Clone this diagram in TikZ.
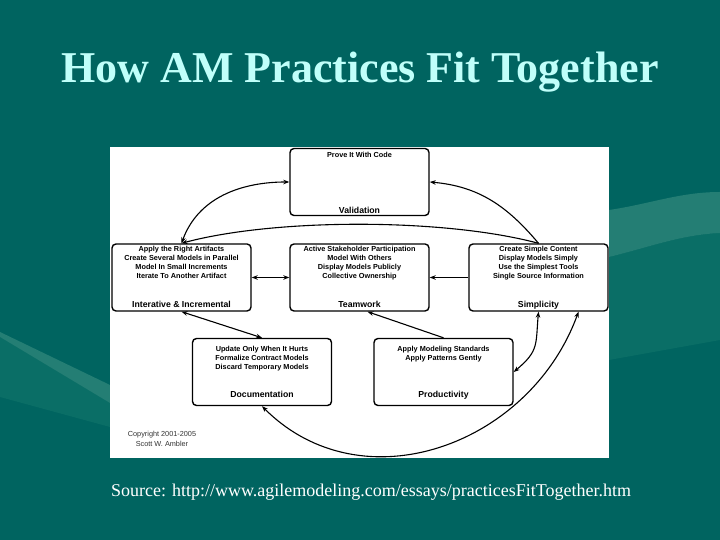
\documentclass[tikz,border=0pt]{standalone}
\usepackage{fontspec}
\setmainfont{Liberation Serif}
\newfontfamily\diagfont{Liberation Sans}
\usetikzlibrary{arrows.meta}
\definecolor{slidebg}{RGB}{0,100,96}
\definecolor{swooshlight}{RGB}{36,126,116}
\definecolor{swooshmid}{RGB}{10,110,102}
\definecolor{titlecyan}{RGB}{192,255,250}
\tikzset{
  practicebox/.style={draw,line width=1.4pt,rounded corners=4pt,minimum width=139pt,minimum height=67pt,inner sep=0pt},
  practices/.style={font=\diagfont\bfseries\fontsize{7.3}{9}\selectfont,align=center,inner sep=0pt,anchor=north},
  boxtitle/.style={font=\diagfont\bfseries\fontsize{8.7}{10}\selectfont,inner sep=0pt,anchor=base},
  link/.style={line width=1.1pt},
}
\begin{document}
\begin{tikzpicture}[x=1pt,y=1pt,>={Stealth[length=6pt,width=4.5pt]}]
  \useasboundingbox (0,0) rectangle (720,540);

  % 背景
  \fill[slidebg] (0,0) rectangle (720,540);
  \fill[swooshmid] (609,283) .. controls (650,293) and (680,305) .. (720,307) -- (720,200) -- (609,180) -- cycle;
  \fill[swooshlight] (609,330) .. controls (650,336) and (680,348) .. (720,348) -- (720,307) .. controls (680,305) and (650,293) .. (609,283) -- cycle;
  \fill[swooshmid] (0,203) -- (110,137) -- (110,113) -- (0,143) -- cycle;
  \fill[swooshlight] (0,208) -- (110,155) -- (110,137) -- (0,203) -- cycle;
  \fill[white] (110,82) rectangle (609,393);

  % 标题与来源
  \node[font=\bfseries\fontsize{44}{50}\selectfont,text=titlecyan,anchor=base] (title) at (360,457) {How AM Practices Fit Together};
  \node[font=\fontsize{18}{20}\selectfont,text=white,anchor=base] (source) at (371,43) {Source: http://www.agilemodeling.com/essays/practicesFitTogether.htm};

  % 实践框
  \node[practicebox] (val) at (359.5,358) {};
  \node[practicebox] (iter) at (181.5,262.5) {};
  \node[practicebox] (team) at (359.5,262.5) {};
  \node[practicebox] (simp) at (538.5,262.5) {};
  \node[practicebox] (doc) at (262,168) {};
  \node[practicebox] (prod) at (443.5,168) {};

  % 框内文字
  \node[practices] (valtext) at ([yshift=-4]val.north) {Prove It With Code};
  \node[boxtitle] (valtitle) at ([yshift=3]val.south) {Validation};
  \node[practices] (itertext) at ([yshift=-2.4]iter.north) {Apply the Right Artifacts\\Create Several Models in Parallel\\Model In Small Increments\\Iterate To Another Artifact};
  \node[boxtitle] (itertitle) at ([yshift=4]iter.south) {Interative \& Incremental};
  \node[practices] (teamtext) at ([yshift=-2.4]team.north) {Active Stakeholder Participation\\Model With Others\\Display Models Publicly\\Collective Ownership};
  \node[boxtitle] (teamtitle) at ([yshift=4]team.south) {Teamwork};
  \node[practices] (simptext) at ([yshift=-2.4]simp.north) {Create Simple Content\\Display Models Simply\\Use the Simplest Tools\\Single Source Information};
  \node[boxtitle] (simptitle) at ([yshift=4]simp.south) {Simplicity};
  \node[practices] (doctext) at ([yshift=-8.4]doc.north) {Update Only When It Hurts\\Formalize Contract Models\\Discard Temporary Models};
  \node[boxtitle] (doctitle) at ([yshift=9]doc.south) {Documentation};
  \node[practices] (prodtext) at ([yshift=-8.4]prod.north) {Apply Modeling Standards\\Apply Patterns Gently};
  \node[boxtitle] (prodtitle) at ([yshift=9]prod.south) {Productivity};

  \node[font=\diagfont\fontsize{7.3}{9.5}\selectfont,text=black!80,align=center] (copyright) at (162,101) {Copyright 2001-2005\\Scott W. Ambler};

  % 连线
  \draw[link,<->] (val.west) to[out=180,in=70] (iter.north);
  \draw[link,->] (simp.north) to[out=130,in=-5] (val.east);
  \draw[link,->] (simp.north) to[out=165,in=15,looseness=0.7] (iter.north);
  \draw[link,<->] (iter.east) -- (team.west);
  \draw[link,->] (simp.west) -- (team.east);
  \draw[link,<->] (iter.south) -- (doc.north);
  \draw[link,->] (prod.north) -- ([xshift=8]team.south);
  \draw[link,<->] (simp.south) to[out=-95,in=40,looseness=1.3] (prod.east);
  \draw[link,<->] ([xshift=40]simp.south) to[out=-110,in=-45,looseness=1.1] (doc.south);
\end{tikzpicture}
\end{document}
